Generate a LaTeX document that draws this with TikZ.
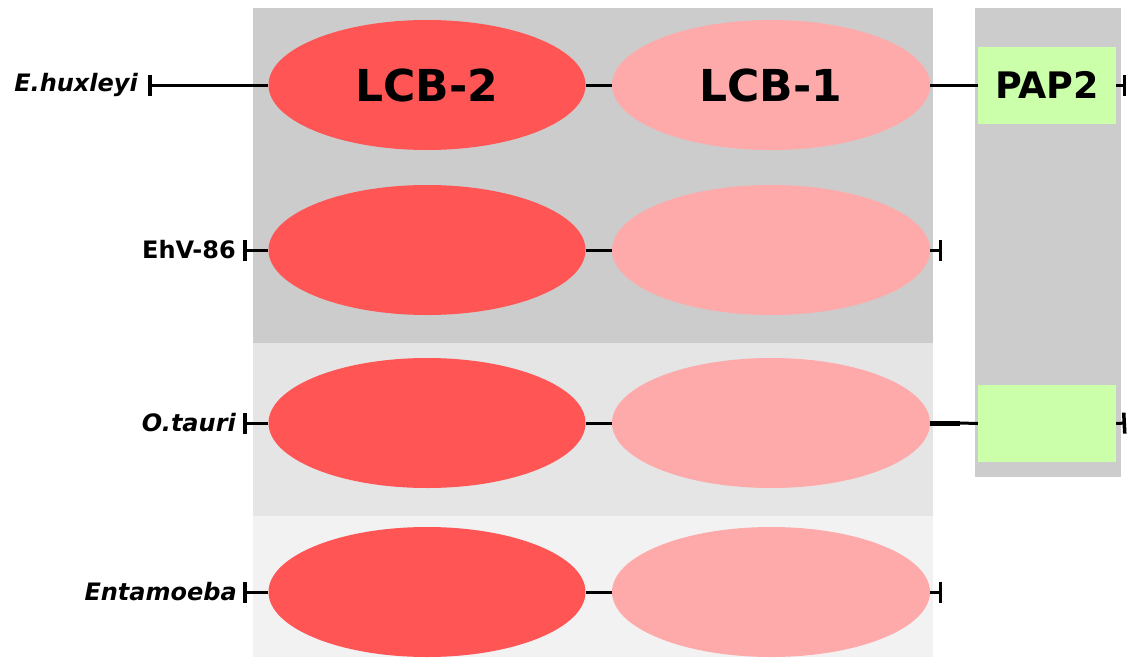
\documentclass[tikz,border=0pt]{standalone}
\usepackage{fontspec}
\setmainfont{DejaVu Sans}
\usetikzlibrary{shapes.geometric,arrows.meta}
\definecolor{lcbtwo}{HTML}{FF5555}
\definecolor{lcbone}{HTML}{FFAAAA}
\definecolor{papg}{HTML}{CCFFAA}
\definecolor{bgA}{HTML}{CCCCCC}
\definecolor{bgB}{HTML}{E5E5E5}
\definecolor{bgC}{HTML}{F2F2F2}
\tikzset{
  domtwo/.style={ellipse, fill=lcbtwo, minimum width=317pt, minimum height=130pt, inner sep=0pt, font=\bfseries\fontsize{44}{44}\selectfont},
  domone/.style={ellipse, fill=lcbone, minimum width=318pt, minimum height=130pt, inner sep=0pt, font=\bfseries\fontsize{44}{44}\selectfont},
  pap/.style={rectangle, fill=papg, minimum width=138pt, minimum height=77pt, inner sep=0pt, font=\bfseries\fontsize{36.5}{36.5}\selectfont},
  species/.style={anchor=east, inner sep=0pt, font=\bfseries\fontsize{24}{24}\selectfont},
  link/.style={line width=3pt},
  thicklink/.style={line width=5pt},
  endbar/.style={{Bar[width=21pt,line width=3.5pt]}-},
  barend/.style={-{Bar[width=21pt,line width=3.5pt]}},
}
\begin{document}
\begin{tikzpicture}[x=1pt,y=-1pt]
\useasboundingbox (0,0) rectangle (1128,659);
% backgrounds
\fill[bgA] (253,8) rectangle (933,343);
\fill[bgB] (253,343) rectangle (933,516);
\fill[bgC] (253,516) rectangle (933,657);
\fill[bgA] (975,8) rectangle (1121,477);

% row 1
\node[domtwo] (a1) at (427,85) {LCB-2};
\node[domone] (b1) at (771,85) {LCB-1};
\node[pap] (p1) at (1047,85) {PAP2};
\node[species] (s1) at (138,85) {\itshape E.huxleyi};
\coordinate (t1) at (148,85);
\coordinate (e1) at (1126,85);
\draw[link,endbar] (t1) -- (a1.west);
\draw[link] (a1.east) -- (b1.west);
\draw[link] (b1.east) -- (p1.west);
\draw[link,barend] (p1.east) -- (e1);

% row 2
\node[domtwo] (a2) at (427,250) {};
\node[domone] (b2) at (771,250) {};
\node[species] (s2) at (236,250) {EhV-86};
\coordinate (t2) at (243,250);
\coordinate (e2) at (942,250);
\draw[link,endbar] (t2) -- (a2.west);
\draw[link] (a2.east) -- (b2.west);
\draw[link,barend] (b2.east) -- (e2);

% row 3
\node[domtwo] (a3) at (427,423) {};
\node[domone] (b3) at (771,423) {};
\node[pap] (p3) at (1047,423.5) {};
\node[species] (s3) at (236,423) {\itshape O.tauri};
\coordinate (t3) at (243,423);
\coordinate (j3) at (960,423);
\coordinate (e3) at (1126,423);
\draw[link,endbar] (t3) -- (a3.west);
\draw[link] (a3.east) -- (b3.west);
\draw[thicklink] (b3.east) -- (j3);
\draw[link] (j3) -- (p3.west);
\draw[link,barend] (p3.east) -- (e3);

% row 4
\node[domtwo] (a4) at (427,592) {};
\node[domone] (b4) at (771,592) {};
\node[species] (s4) at (237,592) {\itshape Entamoeba};
\coordinate (t4) at (243,592);
\coordinate (e4) at (942,592);
\draw[link,endbar] (t4) -- (a4.west);
\draw[link] (a4.east) -- (b4.west);
\draw[link,barend] (b4.east) -- (e4);
\end{tikzpicture}
\end{document}
